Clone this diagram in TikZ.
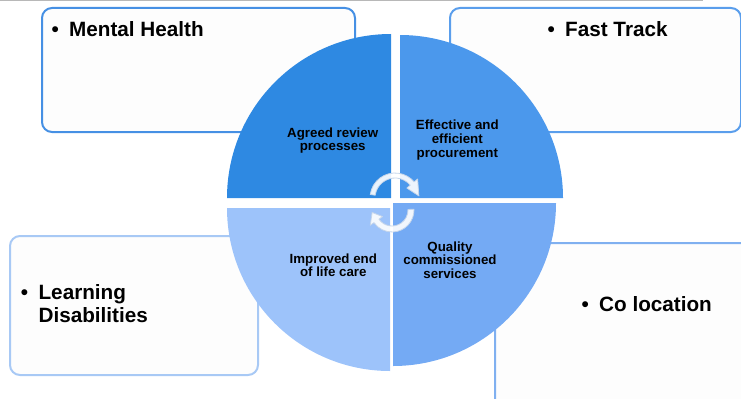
\documentclass[tikz,border=0pt]{standalone}
\usepackage{fontspec}
\setmainfont{Liberation Sans}
\definecolor{qtl}{HTML}{2E89E2}
\definecolor{qtr}{HTML}{4B98EC}
\definecolor{qbr}{HTML}{74AAF4}
\definecolor{qbl}{HTML}{9DC3FA}
\definecolor{bmh}{HTML}{4690E4}
\definecolor{bft}{HTML}{5A9EEC}
\definecolor{bld}{HTML}{A8C9F5}
\definecolor{bcl}{HTML}{80B0F0}
\definecolor{boxfill}{HTML}{FDFDFD}
\definecolor{arrowedge}{HTML}{C5D5EA}
\definecolor{topgray}{HTML}{B8B8B8}
\newcommand\mybul{\makebox[17.6bp][l]{\textbullet}}
\begin{document}
\begin{tikzpicture}[x=1bp,y=1bp,
  box/.style={draw, line width=2bp, rounded corners=10bp, fill=boxfill, inner sep=0pt, anchor=south west},
  big/.style={font=\fontsize{20.7bp}{22.6bp}\selectfont\bfseries, inner sep=0pt, anchor=base west},
  qtext/.style={font=\fontsize{13.3bp}{13.7bp}\selectfont\bfseries, align=center, inner sep=0pt},
  arrowfill/.style={fill=white, fill opacity=0.9, draw=arrowedge, line width=0.8bp, line join=round}]
\useasboundingbox (0,0) rectangle (741,398);
\clip (0,0) rectangle (741,398);
\draw[topgray, line width=1.5bp] (0,397.3) -- (703,397.3);
% boxes
\node[box, draw=bmh, minimum width=313bp, minimum height=124bp] (mhbox) at (41,265) {};
\node[box, draw=bft, minimum width=291bp, minimum height=124bp] (ftbox) at (449,265) {};
\node[box, draw=bld, minimum width=248bp, minimum height=139bp] (ldbox) at (9,22) {};
\node[box, draw=bcl, minimum width=270bp, minimum height=184bp] (clbox) at (494,-30) {};
% quadrants
\fill[qtl] (391,200) -- (227,200) arc[start angle=180,end angle=90,radius=164bp] -- cycle;
\fill[qtr] (400,200) -- (400,363) arc[start angle=90,end angle=0,radius=163bp] -- cycle;
\fill[qbr] (393,195) -- (556,195) arc[start angle=0,end angle=-90,radius=163bp] -- cycle;
\fill[qbl] (390,190) -- (390,27) arc[start angle=270,end angle=180,radius=163bp] -- cycle;
% cycle arrows
\begin{scope}[shift={(395,200)}]
\filldraw[arrowfill] (172:25) arc[start angle=172,end angle=40,radius=25bp] -- (40:29.5) -- (5:24) -- (40:15.5) -- (40:20) arc[start angle=40,end angle=172,radius=20bp] -- cycle;
\end{scope}
\begin{scope}[shift={(392,188)}]
\filldraw[arrowfill] (2:22) arc[start angle=2,end angle=-145,radius=22bp] -- (-145:26.5) -- (-173:20) -- (-145:11.5) -- (-145:16) arc[start angle=-145,end angle=2,radius=16bp] -- cycle;
\end{scope}
% quadrant texts
\node[qtext] (q1) at (332.7,257.5) {Agreed review\\processes};
\node[qtext] (q2) at (457.3,258) {Effective and\\efficient\\procurement};
\node[qtext] (q3) at (450,138) {Quality\\commissioned\\services};
\node[qtext] (q4) at (333.3,132.7) {Improved end\\of life care};
% box texts
\node[big] (mh) at (51.4,361.7) {\mybul Mental Health};
\node[big] (ft) at (547.4,361.7) {\mybul Fast Track};
\node[big] (ld) at (20.8,98.3) {\mybul Learning};
\node[big] (ld2) at (38.4,75.7) {Disabilities};
\node[big] (cl) at (581.4,86.7) {\mybul Co location};
\end{tikzpicture}
\end{document}
